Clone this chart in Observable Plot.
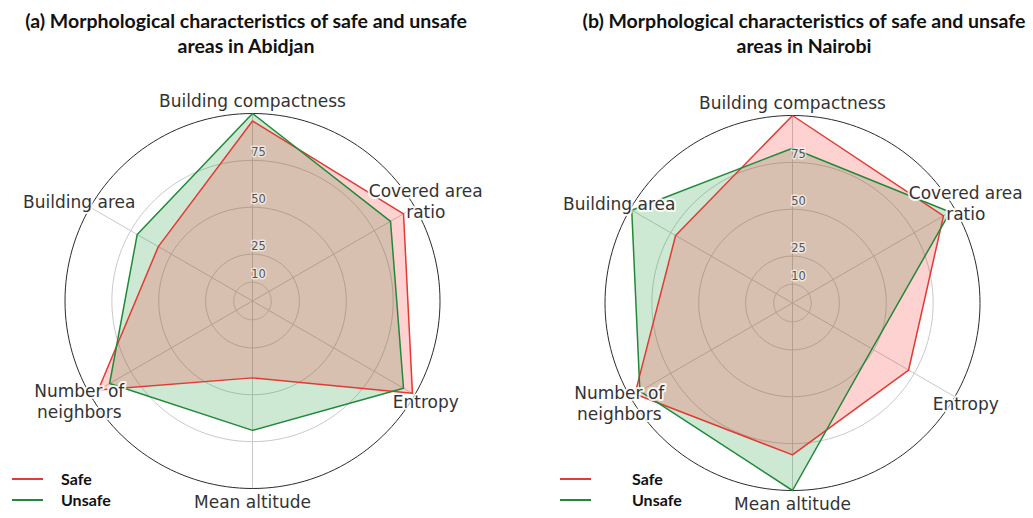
<!DOCTYPE html>
<html>
<head>
<meta charset="utf-8">
<script src="https://cdn.jsdelivr.net/npm/d3@7"></script>
<script src="https://cdn.jsdelivr.net/npm/@observablehq/plot@0.6"></script>
<style>
  html, body { margin: 0; padding: 0; background: #fff; }
  #root { position: relative; width: 1033px; height: 518px; overflow: hidden; }
  .title { position: absolute; top: 8px; font-family: Lato, "Open Sans", sans-serif; font-weight: bold;
           font-size: 19.5px; line-height: 25px; color: #111; text-align: center; white-space: nowrap; }
  .panel { position: absolute; top: 60px; }
  .legend { position: absolute; font-family: Lato, "Open Sans", sans-serif; font-weight: bold; font-size: 16px; color: #111; }
  .legend .row { position: absolute; white-space: nowrap; height: 21px; line-height: 21px; }
  .legend .sw { position: absolute; top: 10px; height: 2px; width: 31px; }
  .legend .lb { position: absolute; top: 0; }
</style>
</head>
<body>
<div id="root"></div>
<script>
// ---- data ----
const categories = ["Building compactness", "Covered area\nratio", "Entropy", "Mean altitude", "Number of\nneighbors", "Building area"];
const ringTicks = [10, 25, 50, 75];
const seriesNames = ["Safe", "Unsafe"];
const abidjanSafe   = [96, 93, 98.5, 41, 95, 58];
const abidjanUnsafe = [100, 85, 93, 69, 88, 71];
const nairobiSafe   = [100, 93, 71.5, 81, 97, 72];
const nairobiUnsafe = [82.5, 97, 49, 100, 94, 99];
const titles = [
  "(a) Morphological characteristics of safe and unsafe<br>areas in Abidjan",
  "(b) Morphological characteristics of safe and unsafe<br>areas in Nairobi"
];

// ---- styling ----
const RED = "#e23a34", GREEN = "#22883a";
const RED_FILL = "#ff1f1f", GREEN_FILL = "#1a9a3a";
const PX_PER_UNIT = 1.875;
const H = 458;
const rMax = 100, rLabel = 106.7;

const theta = i => (90 - 60 * i) * Math.PI / 180;
const toXY = (vals) => vals.map((v, i) => ({x: v * Math.cos(theta(i)), y: v * Math.sin(theta(i))}));
const circle = (r) => d3.range(0, 360, 2).map(a => ({x: r * Math.cos(a * Math.PI / 180), y: r * Math.sin(a * Math.PI / 180)}));

function panel(safe, unsafe, geo) {
  const W = geo.width;
  const xd = [-geo.cx / PX_PER_UNIT, (W - geo.cx) / PX_PER_UNIT];
  const yd = [-(H - geo.cy) / PX_PER_UNIT, geo.cy / PX_PER_UNIT];
  const marks = [];
  for (const t of ringTicks) {
    marks.push(Plot.line(circle(t), {x: "x", y: "y", curve: "linear-closed", stroke: "#c9c9c9", strokeWidth: 1}));
  }
  marks.push(Plot.link(categories, {
    x1: () => 0, y1: () => 0,
    x2: (d, i) => rMax * Math.cos(theta(i)), y2: (d, i) => rMax * Math.sin(theta(i)),
    stroke: "#c9c9c9", strokeWidth: 1
  }));
  marks.push(Plot.line(toXY(unsafe), {x: "x", y: "y", curve: "linear-closed", fill: GREEN_FILL, fillOpacity: 0.22, stroke: "none"}));
  marks.push(Plot.line(toXY(safe), {x: "x", y: "y", curve: "linear-closed", fill: RED_FILL, fillOpacity: 0.2, stroke: "none"}));
  marks.push(Plot.line(circle(rMax), {x: "x", y: "y", curve: "linear-closed", stroke: "#2b2b2b", strokeWidth: 1}));
  marks.push(Plot.line(toXY(safe), {x: "x", y: "y", curve: "linear-closed", stroke: RED, strokeWidth: 1.5}));
  marks.push(Plot.line(toXY(unsafe), {x: "x", y: "y", curve: "linear-closed", stroke: GREEN, strokeWidth: 1.5}));
  marks.push(Plot.text(ringTicks, {
    x: () => 0, y: d => d, text: d => String(d), dx: 6, dy: -8,
    fontSize: 11.5, fill: "#555", stroke: "white", strokeOpacity: 0.6, strokeWidth: 3, fontFamily: "DejaVu Sans"
  }));
  marks.push(Plot.text(categories, {
    x: (d, i) => rLabel * Math.cos(theta(i)), y: (d, i) => rLabel * Math.sin(theta(i)),
    text: d => d, fontSize: 17, fill: "#333", stroke: "white", strokeOpacity: 0.85, strokeWidth: 4,
    lineAnchor: "middle", lineHeight: 1.2, fontFamily: "DejaVu Sans"
  }));
  return Plot.plot({
    width: W, height: H,
    marginLeft: 0, marginRight: 0, marginTop: 0, marginBottom: 0,
    x: {domain: xd, range: [0, W], axis: null},
    y: {domain: yd, range: [H, 0], axis: null},
    style: {fontFamily: "DejaVu Sans", background: "transparent", overflow: "visible"},
    marks
  });
}

const root = document.getElementById("root");
const panels = [
  {safe: abidjanSafe, unsafe: abidjanUnsafe, left: 0, width: 516, cx: 252, cy: 240.5,
   titleLeft: 0, titleWidth: 492, legLeft: 12, legTextOff: 49},
  {safe: nairobiSafe, unsafe: nairobiUnsafe, left: 516, width: 517, cx: 276, cy: 242.5,
   titleLeft: 575, titleWidth: 458, legLeft: 560, legTextOff: 72}
];
panels.forEach((p, k) => {
  const t = document.createElement("div");
  t.className = "title";
  t.style.left = p.titleLeft + "px";
  t.style.width = p.titleWidth + "px";
  t.innerHTML = titles[k];
  root.appendChild(t);

  const d = document.createElement("div");
  d.className = "panel";
  d.style.left = p.left + "px";
  d.appendChild(panel(p.safe, p.unsafe, p));
  root.appendChild(d);

  const lg = document.createElement("div");
  lg.className = "legend";
  lg.style.left = p.legLeft + "px";
  lg.style.top = "468px";
  seriesNames.forEach((name, j) => {
    const row = document.createElement("div");
    row.className = "row";
    row.style.top = (j * 21) + "px";
    row.innerHTML = `<span class="sw" style="left:0;background:${j === 0 ? RED : GREEN}"></span><span class="lb" style="left:${p.legTextOff}px">${name}</span>`;
    lg.appendChild(row);
  });
  root.appendChild(lg);
});
</script>
</body>
</html>
